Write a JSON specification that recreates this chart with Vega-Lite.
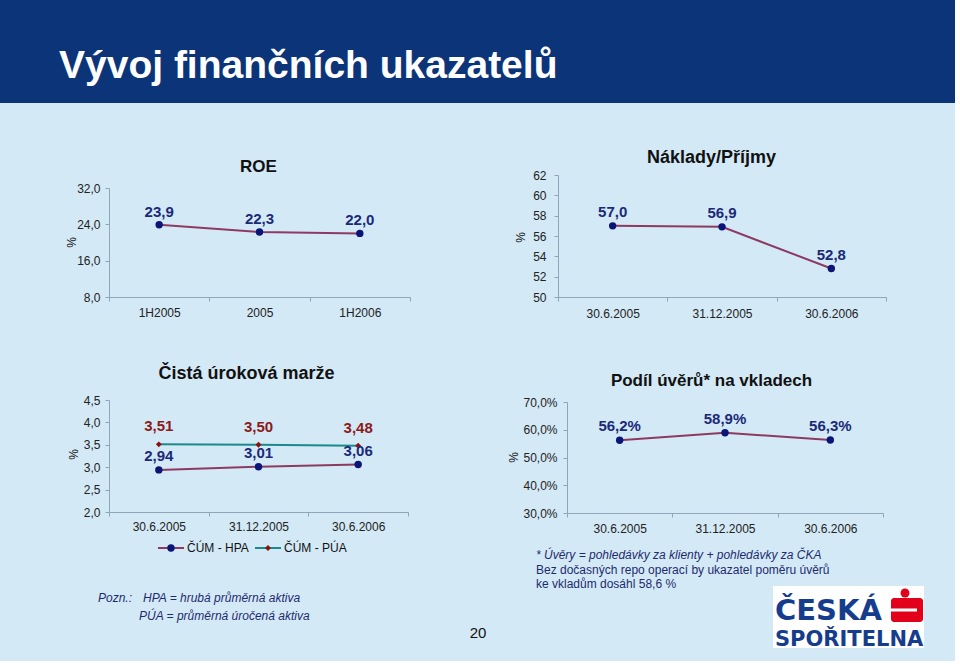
{
  "$schema": "https://vega.github.io/schema/vega-lite/v6.json",
  "width": 960,
  "height": 664,
  "autosize": "none",
  "padding": 0,
  "background": "#ffffff",
  "config": {
    "locale": {"number": {"decimal": ",", "thousands": " ", "grouping": [3], "currency": ["", " Kč"]}},
    "view": {"stroke": null},
    "axis": {
      "grid": false,
      "labelFont": "Liberation Sans",
      "labelFontSize": 12,
      "labelColor": "#222222",
      "labelAngle": 0,
      "domainColor": "#8fa5b8",
      "tickColor": "#8fa5b8",
      "tickSize": 4,
      "titleFont": "Liberation Sans",
      "titleColor": "#111111"
    },
    "text": {"font": "Liberation Sans"}
  },
  "resolve": {
    "scale": {"x": "independent", "y": "independent"},
    "axis": {"x": "independent", "y": "independent"}
  },
  "layer": [
    {
      "data": {"values": [{}]},
      "mark": {"type": "rect", "color": "#d4e9f6"},
      "encoding": {"x": {"value": 0}, "x2": {"value": 955}, "y": {"value": 103}, "y2": {"value": 661}}
    },
    {
      "data": {"values": [{}]},
      "mark": {"type": "rect", "color": "#0b3479"},
      "encoding": {"x": {"value": 0}, "x2": {"value": 955}, "y": {"value": 0}, "y2": {"value": 103}}
    },
    {
      "data": {"values": [{"t": "Vývoj finančních ukazatelů"}]},
      "mark": {"type": "text", "x": 59, "y": 78, "align": "left", "baseline": "alphabetic", "font": "Liberation Sans", "fontWeight": "bold", "fontSize": 39, "color": "#ffffff"},
      "encoding": {"text": {"field": "t"}}
    },
    {
      "data": {"values": [
        {"p": "1H2005", "v": 23.9},
        {"p": "2005", "v": 22.3},
        {"p": "1H2006", "v": 22.0}
      ]},
      "encoding": {
        "x": {
          "field": "p", "type": "nominal", "sort": null,
          "scale": {"type": "band", "domain": ["1H2005", "2005", "1H2006"], "range": [109, 410], "paddingInner": 0, "paddingOuter": 0},
          "axis": {"zindex": 1, "orient": "bottom", "offset": -367, "tickBand": "extent", "labelPadding": 6, "title": "ROE", "titleX": 258, "titleY": -131, "titleAlign": "center", "titleBaseline": "middle", "titleFontSize": 17, "titleFontWeight": "bold"}
        },
        "y": {
          "field": "v", "type": "quantitative",
          "scale": {"domain": [8, 32], "range": [297, 188], "zero": false, "nice": false},
          "axis": {"zindex": 1, "orient": "left", "offset": -109, "values": [8, 16, 24, 32], "format": ".1f", "labelPadding": 5, "title": "%", "titleX": -38, "titleY": 242, "titleAlign": "center", "titleBaseline": "middle", "titleFontSize": 12, "titleFontWeight": "normal"}
        }
      },
      "layer": [
        {"mark": {"type": "line", "color": "#8c3a62", "strokeWidth": 2}, "encoding": {}},
        {"mark": {"type": "point", "filled": true, "color": "#0b1577", "size": 55, "opacity": 1}},
        {"mark": {"type": "text", "color": "#1b2a78", "fontWeight": "bold", "fontSize": 15, "dy": -13, "baseline": "middle"}, "encoding": {"text": {"field": "v", "type": "quantitative", "format": ".1f"}}}
      ]
    },
    {
      "data": {"values": [
        {"p": "30.6.2005", "v": 57.0},
        {"p": "31.12.2005", "v": 56.9},
        {"p": "30.6.2006", "v": 52.8}
      ]},
      "encoding": {
        "x": {
          "field": "p", "type": "nominal", "sort": null,
          "scale": {"type": "band", "domain": ["30.6.2005", "31.12.2005", "30.6.2006"], "range": [558, 886], "paddingInner": 0, "paddingOuter": 0},
          "axis": {"zindex": 1, "orient": "bottom", "offset": -367, "tickBand": "extent", "labelPadding": 7, "title": "Náklady/Příjmy", "titleX": 711, "titleY": -140, "titleAlign": "center", "titleBaseline": "middle", "titleFontSize": 18, "titleFontWeight": "bold"}
        },
        "y": {
          "field": "v", "type": "quantitative",
          "scale": {"domain": [50, 62], "range": [297, 175], "zero": false, "nice": false},
          "axis": {"zindex": 1, "orient": "left", "offset": -558, "values": [50, 52, 54, 56, 58, 60, 62], "format": "d", "labelPadding": 8, "title": "%", "titleX": -38, "titleY": 237, "titleAlign": "center", "titleBaseline": "middle", "titleFontSize": 12, "titleFontWeight": "normal"}
        }
      },
      "layer": [
        {"mark": {"type": "line", "color": "#8c3a62", "strokeWidth": 2}, "encoding": {}},
        {"mark": {"type": "point", "filled": true, "color": "#0b1577", "size": 55, "opacity": 1}},
        {"mark": {"type": "text", "color": "#1b2a78", "fontWeight": "bold", "fontSize": 15, "dy": -14, "baseline": "middle"}, "encoding": {"text": {"field": "v", "type": "quantitative", "format": ".1f"}}}
      ]
    },
    {
      "data": {"values": [
        {"d": "30.6.2005", "k": "HPA", "v": 2.94},
        {"d": "31.12.2005", "k": "HPA", "v": 3.01},
        {"d": "30.6.2006", "k": "HPA", "v": 3.06},
        {"d": "30.6.2005", "k": "PUA", "v": 3.51},
        {"d": "31.12.2005", "k": "PUA", "v": 3.50},
        {"d": "30.6.2006", "k": "PUA", "v": 3.48}
      ]},
      "encoding": {
        "x": {
          "field": "d", "type": "nominal", "sort": null,
          "scale": {"type": "band", "domain": ["30.6.2005", "31.12.2005", "30.6.2006"], "range": [109, 408], "paddingInner": 0, "paddingOuter": 0},
          "axis": {"zindex": 1, "orient": "bottom", "offset": -152, "tickBand": "extent", "labelPadding": 5, "title": "Čistá úroková marže", "titleX": 246, "titleY": -139, "titleAlign": "center", "titleBaseline": "middle", "titleFontSize": 18, "titleFontWeight": "bold"}
        },
        "y": {
          "field": "v", "type": "quantitative",
          "scale": {"domain": [2, 4.5], "range": [512, 400], "zero": false, "nice": false},
          "axis": {"zindex": 1, "orient": "left", "offset": -109, "values": [2, 2.5, 3, 3.5, 4, 4.5], "format": ".1f", "labelPadding": 5, "title": "%", "titleX": -36, "titleY": 454, "titleAlign": "center", "titleBaseline": "middle", "titleFontSize": 12, "titleFontWeight": "normal"}
        }
      },
      "layer": [
        {"transform": [{"filter": "datum.k === 'HPA'"}], "mark": {"type": "line", "color": "#8c3a62", "strokeWidth": 2}, "encoding": {}},
        {"transform": [{"filter": "datum.k === 'PUA'"}], "mark": {"type": "line", "color": "#1a8a8a", "strokeWidth": 2}, "encoding": {}},
        {"transform": [{"filter": "datum.k === 'HPA'"}], "mark": {"type": "point", "shape": "circle", "filled": true, "color": "#0b1577", "size": 55, "opacity": 1}},
        {"transform": [{"filter": "datum.k === 'PUA'"}], "mark": {"type": "point", "shape": "diamond", "filled": true, "color": "#8b1010", "size": 35, "opacity": 1}},
        {"transform": [{"filter": "datum.k === 'HPA'"}], "mark": {"type": "text", "color": "#1b2a78", "fontWeight": "bold", "fontSize": 15, "dy": -14, "baseline": "middle"}, "encoding": {"text": {"field": "v", "type": "quantitative", "format": ".2f"}}},
        {"transform": [{"filter": "datum.k === 'PUA'"}], "mark": {"type": "text", "color": "#8b1a1a", "fontWeight": "bold", "fontSize": 15, "dy": -18, "baseline": "middle"}, "encoding": {"text": {"field": "v", "type": "quantitative", "format": ".2f"}}}
      ]
    },
    {
      "data": {"values": [
        {"s": "ČÚM - HPA", "k": "HPA"},
        {"s": "ČÚM - PÚA", "k": "PUA"}
      ]},
      "encoding": {
        "x": {"field": "s", "type": "nominal", "sort": null, "scale": {"type": "point", "domain": ["ČÚM - HPA", "ČÚM - PÚA"], "range": [171, 268], "padding": 0}, "axis": null},
        "y": {"value": 548}
      },
      "layer": [
        {"transform": [{"filter": "datum.k === 'HPA'"}], "mark": {"type": "rule", "color": "#8c3a62", "strokeWidth": 2, "xOffset": -13, "x2Offset": 13}, "encoding": {"x2": {"field": "s"}}},
        {"transform": [{"filter": "datum.k === 'PUA'"}], "mark": {"type": "rule", "color": "#1a8a8a", "strokeWidth": 2, "xOffset": -13, "x2Offset": 13}, "encoding": {"x2": {"field": "s"}}},
        {"transform": [{"filter": "datum.k === 'HPA'"}], "mark": {"type": "point", "shape": "circle", "filled": true, "color": "#0b1577", "size": 55, "opacity": 1}},
        {"transform": [{"filter": "datum.k === 'PUA'"}], "mark": {"type": "point", "shape": "diamond", "filled": true, "color": "#8b1010", "size": 35, "opacity": 1}},
        {"mark": {"type": "text", "align": "left", "baseline": "middle", "dx": 16, "fontSize": 12, "color": "#111111"}, "encoding": {"text": {"field": "s"}}}
      ]
    },
    {
      "data": {"values": [
        {"p": "30.6.2005", "v": 0.562},
        {"p": "31.12.2005", "v": 0.589},
        {"p": "30.6.2006", "v": 0.563}
      ]},
      "encoding": {
        "x": {
          "field": "p", "type": "nominal", "sort": null,
          "scale": {"type": "band", "domain": ["30.6.2005", "31.12.2005", "30.6.2006"], "range": [567, 883], "paddingInner": 0, "paddingOuter": 0},
          "axis": {"zindex": 1, "orient": "bottom", "offset": -151, "tickBand": "extent", "labelPadding": 6, "title": "Podíl úvěrů* na vkladech", "titleX": 711, "titleY": -133, "titleAlign": "center", "titleBaseline": "middle", "titleFontSize": 17, "titleFontWeight": "bold"}
        },
        "y": {
          "field": "v", "type": "quantitative",
          "scale": {"domain": [0.3, 0.7], "range": [513, 402], "zero": false, "nice": false},
          "axis": {"zindex": 1, "orient": "left", "offset": -567, "values": [0.3, 0.4, 0.5, 0.6, 0.7], "format": ".1%", "labelPadding": 6, "title": "%", "titleX": -54, "titleY": 457, "titleAlign": "center", "titleBaseline": "middle", "titleFontSize": 12, "titleFontWeight": "normal"}
        }
      },
      "layer": [
        {"mark": {"type": "line", "color": "#8c3a62", "strokeWidth": 2}, "encoding": {}},
        {"mark": {"type": "point", "filled": true, "color": "#0b1577", "size": 55, "opacity": 1}},
        {"mark": {"type": "text", "color": "#1b2a78", "fontWeight": "bold", "fontSize": 15, "dy": -14, "baseline": "middle"}, "encoding": {"text": {"field": "v", "type": "quantitative", "format": ".1%"}}}
      ]
    },
    {
      "data": {"values": [{"t": "Pozn.:"}]},
      "mark": {"type": "text", "x": 98, "y": 598, "align": "left", "baseline": "middle", "fontSize": 12, "fontStyle": "italic", "color": "#1d2b6e"},
      "encoding": {"text": {"field": "t"}}
    },
    {
      "data": {"values": [{"t": "HPA = hrubá průměrná aktiva"}]},
      "mark": {"type": "text", "x": 143, "y": 598, "align": "left", "baseline": "middle", "fontSize": 12, "fontStyle": "italic", "color": "#1d2b6e"},
      "encoding": {"text": {"field": "t"}}
    },
    {
      "data": {"values": [{"t": "PÚA = průměrná úročená aktiva"}]},
      "mark": {"type": "text", "x": 139, "y": 616, "align": "left", "baseline": "middle", "fontSize": 12, "fontStyle": "italic", "color": "#1d2b6e"},
      "encoding": {"text": {"field": "t"}}
    },
    {
      "data": {"values": [{"t": "* Úvěry = pohledávky za klienty + pohledávky za ČKA"}]},
      "mark": {"type": "text", "x": 536, "y": 555, "align": "left", "baseline": "middle", "fontSize": 12, "fontStyle": "italic", "color": "#1d2b6e"},
      "encoding": {"text": {"field": "t"}}
    },
    {
      "data": {"values": [{"t": "Bez dočasných repo operací by ukazatel poměru úvěrů"}]},
      "mark": {"type": "text", "x": 536, "y": 570, "align": "left", "baseline": "middle", "fontSize": 12, "color": "#1d2b6e"},
      "encoding": {"text": {"field": "t"}}
    },
    {
      "data": {"values": [{"t": "ke vkladům dosáhl 58,6 %"}]},
      "mark": {"type": "text", "x": 536, "y": 584, "align": "left", "baseline": "middle", "fontSize": 12, "color": "#1d2b6e"},
      "encoding": {"text": {"field": "t"}}
    },
    {
      "data": {"values": [{"t": "20"}]},
      "mark": {"type": "text", "x": 478, "y": 633, "align": "center", "baseline": "middle", "fontSize": 15, "color": "#111111"},
      "encoding": {"text": {"field": "t"}}
    },
    {
      "data": {"values": [{}]},
      "mark": {"type": "rect", "color": "#ffffff"},
      "encoding": {"x": {"value": 773}, "x2": {"value": 924}, "y": {"value": 586}, "y2": {"value": 648}}
    },
    {
      "data": {"values": [{}]},
      "mark": {"type": "rect", "color": "#e3001b", "cornerRadius": 3},
      "encoding": {"x": {"value": 891}, "x2": {"value": 923}, "y": {"value": 598}, "y2": {"value": 622}}
    },
    {
      "data": {"values": [{}]},
      "mark": {"type": "rect", "color": "#ffffff"},
      "encoding": {"x": {"value": 891}, "x2": {"value": 917}, "y": {"value": 608.5}, "y2": {"value": 611.5}}
    },
    {
      "data": {"values": [{}]},
      "mark": {"type": "circle", "color": "#e3001b", "opacity": 1, "size": 80},
      "encoding": {"x": {"value": 905}, "y": {"value": 593}}
    },
    {
      "data": {"values": [{"t": "ČESKÁ"}]},
      "mark": {"type": "text", "x": 775, "y": 620, "align": "left", "baseline": "alphabetic", "font": "DejaVu Sans", "fontWeight": "bold", "fontSize": 29, "color": "#163d8d"},
      "encoding": {"text": {"field": "t"}}
    },
    {
      "data": {"values": [{"t": "SPOŘITELNA"}]},
      "mark": {"type": "text", "x": 775, "y": 646, "align": "left", "baseline": "alphabetic", "font": "DejaVu Sans", "fontWeight": "bold", "fontSize": 21, "color": "#163d8d"},
      "encoding": {"text": {"field": "t"}}
    }
  ]
}
